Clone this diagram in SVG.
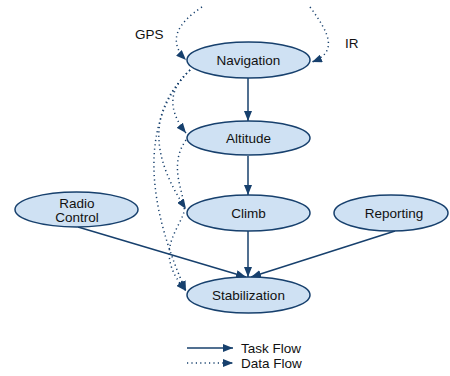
<svg xmlns="http://www.w3.org/2000/svg" width="450" height="376" viewBox="0 0 450 376">
<defs>
<marker id="ah" viewBox="0 0 10 8" refX="10" refY="4" markerWidth="10" markerHeight="8" markerUnits="userSpaceOnUse" orient="auto">
<path d="M0,0 L10,4 L0,8 z" fill="#17406d"/>
</marker>
<style>
.node ellipse{fill:#cfe1f3;stroke:#17406d;stroke-width:1.5}
.node text, .lbl{font-family:"Liberation Sans",Arial,sans-serif;font-size:13.5px;fill:#111111;text-anchor:middle}
.lbl{text-anchor:start}
.task{fill:none;stroke:#17406d;stroke-width:1.5;marker-end:url(#ah)}
.data{fill:none;stroke:#17406d;stroke-width:1.5;stroke-dasharray:1.2 3.2;marker-end:url(#ah)}
</style>
</defs>
<rect width="450" height="376" fill="#ffffff"/>
<g id="connectors">
<path class="task" d="M248,78 L248,121"/>
<path class="task" d="M248,156 L248,195"/>
<path class="task" d="M248,231 L248,277"/>
<path class="task" d="M78,227 L246,277"/>
<path class="task" d="M395,231 L251,277"/>
<path class="data" d="M202,7 C176,24 168,42 186,60"/>
<path class="data" d="M310,7 C330,34 338,52 312,62"/>
<path class="data" d="M190,70 C170,88 166,108 186,133"/>
<path class="data" d="M190,70 C160,100 140,140 186,209"/>
<path class="data" d="M190,70 C150,110 136,180 186,291"/>
<path class="data" d="M186,140 C165,170 190,200 183,215 C175,235 155,255 186,291"/>
<path class="task" d="M187,348 L233,348"/>
<path class="data" d="M187,363 L233,363"/>
</g>
<g id="label-gps"><text class="lbl" x="135" y="39">GPS</text></g>
<g id="label-ir"><text class="lbl" x="345" y="48">IR</text></g>
<g id="navigation" class="node"><ellipse cx="248.5" cy="60" rx="61.5" ry="18"/><text x="248.5" y="65">Navigation</text></g>
<g id="altitude" class="node"><ellipse cx="248.5" cy="138" rx="61.5" ry="17"/><text x="248.5" y="143">Altitude</text></g>
<g id="climb" class="node"><ellipse cx="248.5" cy="213" rx="61.5" ry="18"/><text x="248.5" y="218">Climb</text></g>
<g id="radio-control" class="node"><ellipse cx="76.5" cy="209.5" rx="61.5" ry="17.5"/><text x="77" y="208">Radio</text><text x="77" y="222">Control</text></g>
<g id="reporting" class="node"><ellipse cx="391" cy="213" rx="57" ry="18"/><text x="394" y="218">Reporting</text></g>
<g id="stabilization" class="node"><ellipse cx="248.5" cy="295" rx="61.5" ry="18"/><text x="248.5" y="300">Stabilization</text></g>
<g id="legend">
<text class="lbl" x="241" y="353">Task Flow</text>
<text class="lbl" x="241" y="368">Data Flow</text>
</g>
</svg>
